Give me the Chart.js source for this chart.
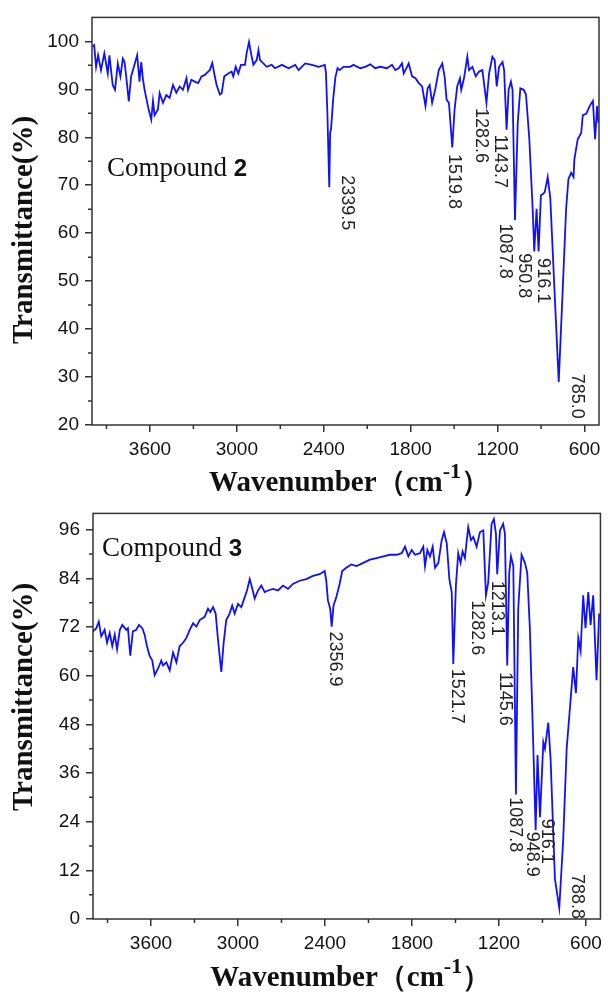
<!DOCTYPE html>
<html>
<head>
<meta charset="utf-8">
<script src="https://cdn.jsdelivr.net/npm/chart.js@4.4.0/dist/chart.umd.min.js"></script>
<style>
  html, body { margin: 0; padding: 0; background: #fff; }
  canvas { display: block; }
</style>
</head>
<body>
<canvas id="ir2" width="608" height="496"></canvas>
<canvas id="ir3" width="608" height="496"></canvas>
<script>
// IR spectrum, compound 2 (wavenumber / transmittance %)
const wn2 = [3995, 3985, 3972, 3958, 3938, 3915, 3891, 3880, 3857, 3841, 3822, 3804, 3787, 3776, 3764, 3746, 3730, 3707, 3688, 3672,
  3660, 3649, 3637, 3614, 3603, 3591, 3579, 3568, 3545, 3533, 3510, 3487, 3464, 3441, 3418, 3395, 3372, 3348, 3337, 3314,
  3290, 3267, 3244, 3221, 3198, 3187, 3170, 3156, 3140, 3117, 3105, 3087, 3059, 3036, 3025, 3008, 2990, 2972, 2944, 2933,
  2916, 2902, 2886, 2863, 2851, 2840, 2817, 2794, 2760, 2737, 2689, 2643, 2597, 2574, 2528, 2482, 2435, 2393, 2385, 2375,
  2362, 2356, 2350, 2335, 2320, 2305, 2290, 2264, 2218, 2195, 2148, 2114, 2079, 2045, 2010, 1964, 1929, 1906, 1883, 1860,
  1848, 1825, 1814, 1790, 1767, 1744, 1721, 1698, 1683, 1669, 1652, 1629, 1606, 1582, 1566, 1552, 1536, 1513, 1497, 1479,
  1460, 1451, 1432, 1409, 1397, 1374, 1351, 1328, 1305, 1277, 1259, 1236, 1220, 1206, 1190, 1166, 1155, 1138, 1124, 1108,
  1097, 1080, 1061, 1043, 1020, 1004, 981, 958, 947, 931, 917, 901, 885, 874, 854, 836, 808, 778, 750, 727,
  711, 692, 676, 670, 647, 623, 612, 588, 565, 542, 527, 513, 504];
const t2 = [98.9, 99.2, 94.7, 97.1, 94.0, 97.5, 93.3, 97.1, 90.9, 89.9, 95.4, 92.7, 96.4, 95.8, 92.7, 87.5, 92.7, 95.1, 97.1, 91.6,
  95.7, 92.3, 89.9, 86.5, 85.1, 83.7, 87.6, 84.6, 85.8, 89.2, 87.2, 88.8, 88.2, 90.9, 89.3, 90.6, 89.9, 92.3, 89.9, 92.0,
  91.6, 91.3, 92.7, 93.0, 93.7, 94.0, 95.5, 93.3, 90.9, 88.9, 89.2, 92.7, 93.3, 93.7, 92.7, 94.7, 93.3, 95.1, 95.1, 97.5,
  99.9, 97.5, 95.1, 96.1, 98.2, 96.1, 95.4, 94.7, 95.1, 94.4, 95.1, 94.4, 95.1, 94.0, 95.4, 95.1, 94.7, 95.1, 93.5, 85.0,
  69.6, 81.0, 81.6, 88.0, 92.5, 94.4, 94.0, 94.7, 94.7, 95.1, 94.4, 94.7, 95.2, 94.4, 94.7, 94.4, 95.1, 94.0, 94.4, 95.4,
  93.3, 94.7, 95.4, 92.7, 92.3, 91.3, 90.6, 86.5, 90.2, 90.9, 87.2, 90.2, 94.0, 95.4, 92.7, 87.8, 87.2, 77.9, 85.8, 90.6,
  92.3, 89.9, 92.3, 96.8, 94.0, 94.7, 92.7, 93.7, 94.0, 87.2, 93.3, 96.8, 96.1, 90.6, 94.7, 95.7, 94.0, 81.6, 89.9, 91.6,
  89.9, 62.7, 83.0, 90.2, 89.9, 88.9, 79.6, 65.1, 56.2, 65.1, 56.2, 67.9, 68.2, 68.6, 71.7, 67.2, 48.6, 29.0, 48.6, 65.1,
  71.3, 72.6, 71.7, 75.4, 79.6, 80.9, 84.6, 84.9, 86.5, 87.6, 79.6, 86.5, 83.0];

// IR spectrum, compound 3
const wn3 = [4000, 3977, 3960, 3943, 3920, 3903, 3885, 3867, 3850, 3834, 3815, 3798, 3770, 3759, 3743, 3725, 3702, 3683, 3660, 3644,
  3628, 3610, 3591, 3575, 3552, 3529, 3517, 3494, 3471, 3448, 3425, 3402, 3379, 3356, 3333, 3310, 3287, 3264, 3230, 3207,
  3191, 3172, 3154, 3138, 3115, 3099, 3081, 3058, 3040, 3023, 3000, 2977, 2954, 2938, 2919, 2901, 2885, 2862, 2839, 2816,
  2793, 2759, 2724, 2690, 2655, 2621, 2575, 2529, 2483, 2437, 2402, 2391, 2380, 2364, 2354, 2341, 2322, 2299, 2281, 2253,
  2219, 2182, 2136, 2090, 2044, 1998, 1952, 1906, 1871, 1848, 1825, 1802, 1779, 1745, 1722, 1710, 1694, 1676, 1657, 1641,
  1618, 1595, 1579, 1560, 1542, 1526, 1515, 1497, 1481, 1465, 1451, 1435, 1412, 1393, 1377, 1354, 1331, 1308, 1290, 1274,
  1251, 1235, 1221, 1212, 1193, 1171, 1159, 1143, 1129, 1117, 1101, 1083, 1067, 1044, 1021, 1005, 987, 964, 947, 934,
  917, 894, 883, 860, 844, 814, 784, 757, 733, 715, 688, 669, 653, 637, 619, 603, 584, 568, 550, 527,
  509];
const t3 = [70.9, 71.7, 73.3, 69.7, 71.3, 68.1, 70.5, 67.3, 70.1, 66.5, 71.3, 72.5, 71.3, 71.7, 64.9, 70.9, 71.3, 72.5, 71.7, 70.1,
  67.3, 64.9, 63.7, 60.1, 61.7, 63.7, 62.5, 63.3, 61.3, 65.7, 63.3, 67.3, 68.1, 69.3, 71.3, 72.9, 72.1, 73.7, 74.5, 76.5,
  75.7, 76.9, 75.3, 68.9, 60.9, 68.1, 73.7, 75.3, 77.3, 75.3, 77.7, 76.9, 79.3, 81.0, 83.8, 81.4, 79.0, 81.0, 82.2, 80.6,
  81.0, 81.4, 81.0, 82.2, 81.4, 82.6, 83.4, 83.8, 84.6, 85.0, 85.8, 83.4, 78.6, 76.5, 72.1, 77.3, 79.3, 82.6, 85.8, 86.6,
  87.4, 87.0, 87.8, 88.6, 89.0, 89.4, 89.8, 89.8, 90.2, 91.8, 89.4, 91.0, 89.8, 90.2, 91.8, 87.0, 91.0, 89.4, 91.8, 86.6,
  87.8, 93.4, 95.4, 92.6, 83.8, 80.6, 62.9, 82.2, 90.2, 87.8, 90.6, 89.0, 96.6, 93.4, 94.2, 91.8, 95.4, 95.8, 79.8, 83.0,
  97.4, 98.6, 95.0, 85.0, 95.8, 97.4, 95.0, 62.5, 85.4, 89.4, 87.0, 30.7, 76.6, 89.8, 87.8, 85.4, 71.7, 43.6, 21.9, 40.4,
  25.1, 43.6, 42.0, 48.4, 39.6, 9.9, 2.7, 19.5, 42.0, 50.0, 62.1, 55.7, 69.3, 66.1, 79.8, 71.7, 80.6, 72.5, 79.8, 58.9,
  75.3];

// peak labels and where their text starts (wavenumber, %T)
const peaks2 = ['2339.5', '1519.8', '1282.6', '1143.7', '1087.8', '950.8', '916.1', '785.0'];
const peakX2 = [2243, 1501, 1316, 1182, 1150, 1020, 888, 653];
const peakY2 = [72.1, 76.5, 86.1, 80.6, 62.0, 55.8, 54.8, 30.7];
const peaks3 = ['2356.9', '1521.7', '1282.6', '1213.1', '1145.6', '1087.8', '948.9', '916.1', '788.8'];
const peakX3 = [2333, 1492, 1354, 1216, 1159, 1090, 975, 871, 664];
const peakY3 = [70.9, 61.7, 78.6, 83.4, 60.9, 30.0, 21.5, 24.7, 11.1];

const xTicks = [3600, 3000, 2400, 1800, 1200, 600];
const xMinor = [3900, 3300, 2700, 2100, 1500, 900];
const yTicks2 = [20, 30, 40, 50, 60, 70, 80, 90, 100];
const yMinor2 = [25, 35, 45, 55, 65, 75, 85, 95];
const yTicks3 = [0, 12, 24, 36, 48, 60, 72, 84, 96];
const yMinor3 = [6, 18, 30, 42, 54, 66, 78, 90];

const tickFont = { family: 'Liberation Sans, Arial, sans-serif', size: 19 };
const titleFont = 'bold 29px "Liberation Serif", "Times New Roman", serif';
const axisColor = '#333';

function deco(cfg) {
  return {
    id: 'deco_' + cfg.id,
    afterDraw(chart) {
      const ctx = chart.ctx;
      const a = chart.chartArea;
      const xs = chart.scales.x, ys = chart.scales.y;
      ctx.save();
      ctx.strokeStyle = axisColor;
      ctx.lineWidth = 1.5;
      ctx.strokeRect(a.left, a.top, a.right - a.left, a.bottom - a.top);
      // minor ticks
      ctx.beginPath();
      xMinor.forEach(v => {
        const px = xs.getPixelForValue(v);
        ctx.moveTo(px, a.bottom); ctx.lineTo(px, a.bottom + 4);
      });
      cfg.yMinor.forEach(v => {
        const py = ys.getPixelForValue(v);
        ctx.moveTo(a.left - 4, py); ctx.lineTo(a.left, py);
      });
      ctx.stroke();

      // peak labels, rotated
      ctx.fillStyle = '#222';
      ctx.font = '18px "Liberation Sans", Arial, sans-serif';
      ctx.textAlign = 'left';
      ctx.textBaseline = 'middle';
      cfg.peaks.forEach((lab, i) => {
        ctx.save();
        ctx.translate(xs.getPixelForValue(cfg.peakX[i]), ys.getPixelForValue(cfg.peakY[i]));
        ctx.rotate(Math.PI / 2);
        ctx.fillText(lab, 0, 0);
        ctx.restore();
      });

      // compound label
      ctx.fillStyle = '#111';
      ctx.textBaseline = 'alphabetic';
      const cx = xs.getPixelForValue(cfg.nameAt[0]);
      const cy = ys.getPixelForValue(cfg.nameAt[1]);
      ctx.font = '27px "Liberation Serif", "Times New Roman", serif';
      ctx.fillText('Compound ', cx, cy);
      const w = ctx.measureText('Compound ').width;
      ctx.font = 'bold 24px "Liberation Sans", Arial, sans-serif';
      ctx.fillText(cfg.num, cx + w, cy);

      // y title
      ctx.save();
      ctx.translate(25, cfg.yTitleY);
      ctx.rotate(-Math.PI / 2);
      ctx.font = titleFont;
      ctx.textAlign = 'center';
      ctx.textBaseline = 'middle';
      ctx.fillText('Transmittance(%)', 0, 0);
      ctx.restore();

      // x title with superscript
      ctx.font = titleFont;
      const p1 = 'Wavenumber\uFF08cm', p3 = '\uFF09';
      const w1 = ctx.measureText(p1).width;
      const w3 = ctx.measureText(p3).width;
      ctx.font = 'bold 22px "Liberation Serif", "Times New Roman", serif';
      const w2 = ctx.measureText('-1').width;
      let x0 = (a.left + a.right) / 2 + 4 - (w1 + w2 + w3) / 2;
      const by = cfg.xTitleY;
      ctx.textAlign = 'left';
      ctx.font = titleFont;
      ctx.fillText(p1, x0, by);
      ctx.font = 'bold 22px "Liberation Serif", "Times New Roman", serif';
      ctx.fillText('-1', x0 + w1, by - 13);
      ctx.font = titleFont;
      ctx.fillText(p3, x0 + w1 + w2, by);
      ctx.restore();
    }
  };
}

function makeChart(cfg) {
  const pts = cfg.wn.map((w, i) => ({ x: w, y: cfg.t[i] }));
  return new Chart(document.getElementById(cfg.id), {
    type: 'line',
    data: {
      datasets: [{
        data: pts,
        borderColor: '#1010ff',
        borderWidth: 1.8,
        pointRadius: 0,
        tension: 0,
        fill: false
      }]
    },
    options: {
      responsive: false,
      animation: false,
      devicePixelRatio: 1,
      layout: { padding: { top: cfg.padTop, right: cfg.padRight, left: 0, bottom: 0 } },
      plugins: { legend: { display: false }, tooltip: { enabled: false } },
      scales: {
        x: {
          type: 'linear', reverse: true, min: 500, max: 4000,
          afterBuildTicks: s => { s.ticks = xTicks.map(v => ({ value: v })); },
          afterFit: s => { s.height = cfg.xHeight; },
          grid: { drawOnChartArea: false, tickLength: 7, color: axisColor, lineWidth: 1.5 },
          border: { display: false },
          ticks: { font: tickFont, color: '#111', padding: 6, maxRotation: 0, autoSkip: false,
                   callback: v => String(v) }
        },
        y: {
          min: cfg.yMin, max: cfg.yMax,
          afterBuildTicks: s => { s.ticks = cfg.yTicks.map(v => ({ value: v })); },
          afterFit: s => { s.width = cfg.yWidth; },
          grid: { drawOnChartArea: false, tickLength: 7, color: axisColor, lineWidth: 1.5 },
          border: { display: false },
          ticks: { font: tickFont, color: '#111', padding: 6, autoSkip: false,
                   callback: v => String(v) }
        }
      }
    },
    plugins: [deco(cfg)]
  });
}

makeChart({
  id: 'ir2', wn: wn2, t: t2, yMin: 20, yMax: 105, yTicks: yTicks2, yMinor: yMinor2,
  peaks: peaks2, peakX: peakX2, peakY: peakY2, num: '2', nameAt: [3896, 72],
  padTop: 14, padRight: 9, yWidth: 92, xHeight: 71, yTitleY: 230, xTitleY: 491
});
makeChart({
  id: 'ir3', wn: wn3, t: t3, yMin: 0, yMax: 100, yTicks: yTicks3, yMinor: yMinor3,
  peaks: peaks3, peakX: peakX3, peakY: peakY3, num: '3', nameAt: [3938, 89.5],
  padTop: 9, padRight: 7, yWidth: 93, xHeight: 73, yTitleY: 201, xTitleY: 490
});
</script>
</body>
</html>
